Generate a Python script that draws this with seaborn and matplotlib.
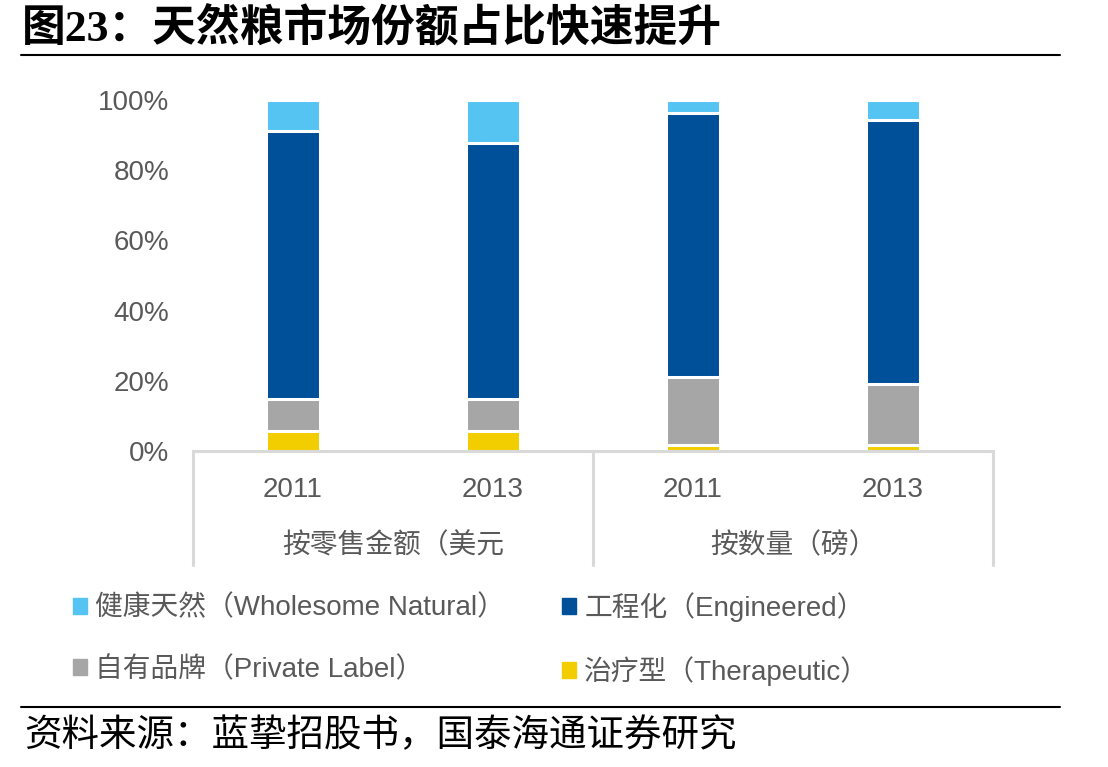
import pandas as pd
import seaborn as sns
import matplotlib.pyplot as plt
from matplotlib.lines import Line2D
from matplotlib.patches import Patch
from matplotlib.ticker import PercentFormatter

# Chart data (shares of total)
groups = ['按零售金额（美元', '按数量（磅）']
years = ['2011', '2013', '2011', '2013']
bar_keys = ['sales_2011', 'sales_2013', 'volume_2011', 'volume_2013']

therapeutic = [0.056, 0.056, 0.016, 0.016]
private_label = [0.091, 0.091, 0.194, 0.174]
engineered = [0.766, 0.730, 0.754, 0.754]
wholesome = [0.087, 0.123, 0.036, 0.056]

series_names = ['治疗型（Therapeutic）', '自有品牌（Private Label）',
                '工程化（Engineered）', '健康天然（Wholesome Natural）']
series_colors = ['#f2cd00', '#a6a6a6', '#004f99', '#55c4f2']

sns.set_style('white')
plt.rcParams['font.family'] = ['Liberation Sans', 'Noto Sans CJK SC']

df = pd.DataFrame({'bar': bar_keys, 'therapeutic': therapeutic,
                   'private_label': private_label, 'engineered': engineered,
                   'wholesome': wholesome})
cols = ['therapeutic', 'private_label', 'engineered', 'wholesome']
cum = df[cols].cumsum(axis=1)
cum['bar'] = df['bar']

fig = plt.figure(figsize=(11.08, 7.67), dpi=100)
ax = fig.add_axes([193 / 1108, 1 - 451 / 767, 800 / 1108, 351 / 767])

# stacked bars: draw cumulative totals from the top series down
for col, color in zip(reversed(cols), reversed(series_colors)):
    sns.barplot(data=cum, x='bar', y=col, color=color, saturation=1,
                width=0.27, edgecolor='white', linewidth=2.2,
                errorbar=None, ax=ax)

ax.set_xlim(-0.5, 3.5)
ax.set_ylim(0, 1)
ax.set_yticks([0, 0.2, 0.4, 0.6, 0.8, 1.0])
ax.yaxis.set_major_formatter(PercentFormatter(1.0, decimals=0))
ax.set_xticks(range(4))
ax.set_xticklabels(years)
ax.set_xlabel('')
ax.set_ylabel('')
ax.tick_params(axis='both', length=0, labelsize=20, colors='#595959')
ax.tick_params(axis='y', pad=17)
ax.tick_params(axis='x', pad=19)
for side in ['top', 'right', 'left']:
    ax.spines[side].set_visible(False)
ax.spines['bottom'].set_color('#d9d9d9')
ax.spines['bottom'].set_linewidth(2.2)

# group separators and group labels under the axis
trans = ax.get_xaxis_transform()
for xs in [-0.5, 1.5, 3.5]:
    ax.plot([xs, xs], [0, -0.325], color='#d9d9d9', lw=2.2,
            transform=trans, clip_on=False)
for i, g in enumerate(groups):
    ax.text(0.5 + 2 * i, -0.27, g, transform=trans, ha='center',
            va='center', fontsize=20, color='#595959')

# legend
handles = [Patch(color=series_colors[3]), Patch(color=series_colors[1]),
           Patch(color=series_colors[2]), Patch(color=series_colors[0])]
labels = [series_names[3], series_names[1], series_names[2], series_names[0]]
fig.legend(handles, labels, ncol=2, loc='upper left',
           bbox_to_anchor=(59 / 1108, 1 - 578 / 767), frameon=False,
           borderpad=0, handlelength=0.5, handleheight=0.5,
           handletextpad=0.3, columnspacing=2.05, labelspacing=1.25,
           fontsize=20, labelcolor='#595959')

# title, rules and source
fig.text(22 / 1108, 1 - 29 / 767, '图23：天然粮市场份额占比快速提升',
         fontsize=31.5, fontweight='bold', va='center', color='black',
         family=['Liberation Serif', 'Noto Sans CJK SC'])
fig.add_artist(Line2D([21 / 1108, 1060 / 1108], [1 - 55 / 767] * 2,
                      color='black', lw=1.5, transform=fig.transFigure))
fig.add_artist(Line2D([21 / 1108, 1060 / 1108], [1 - 707 / 767] * 2,
                      color='black', lw=1.5, transform=fig.transFigure))
fig.text(24 / 1108, 1 - 736 / 767, '资料来源：蓝挚招股书，国泰海通证券研究',
         fontsize=27, va='center', color='black')

fig.savefig('out.png', dpi=100)
